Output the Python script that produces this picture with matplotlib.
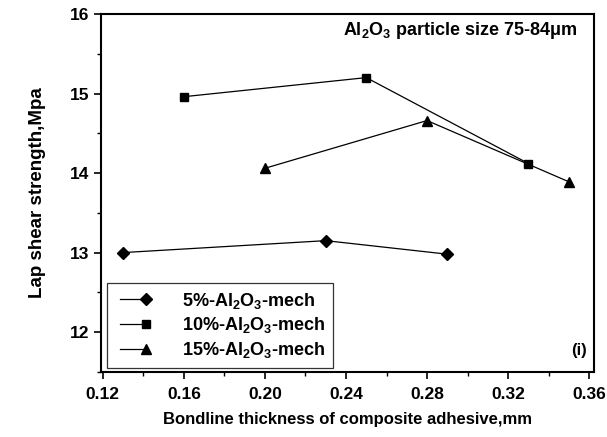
import matplotlib
matplotlib.use("Agg")
import matplotlib.pyplot as plt
from matplotlib.lines import Line2D
from matplotlib.legend_handler import HandlerLine2D
from matplotlib.ticker import MultipleLocator

plt.rcParams["font.family"] = "Liberation Sans"
plt.rcParams["font.weight"] = "bold"
plt.rcParams["mathtext.fontset"] = "custom"
plt.rcParams["mathtext.rm"] = "Liberation Sans:bold"
plt.rcParams["mathtext.bf"] = "Liberation Sans:bold"
plt.rcParams["mathtext.it"] = "Liberation Sans:bold"
plt.rcParams["mathtext.default"] = "bf"

# Data
x_5 = [0.13, 0.23, 0.29]
y_5 = [13.00, 13.15, 12.98]
x_10 = [0.16, 0.25, 0.33]
y_10 = [14.96, 15.20, 14.12]
x_15 = [0.20, 0.28, 0.35]
y_15 = [14.06, 14.66, 13.89]

labels = [
    r"5%-Al$_2$O$_3$-mech",
    r"10%-Al$_2$O$_3$-mech",
    r"15%-Al$_2$O$_3$-mech",
]


# legend entry with the marker only at the right end of the line
class EndMarker(HandlerLine2D):
    def create_artists(self, *args, **kwargs):
        arts = super().create_artists(*args, **kwargs)
        for a in arts:
            a.set_markevery([1])
        return arts


fig = plt.figure(figsize=(6.07, 4.37), dpi=100)
ax = fig.add_axes([0.166, 0.149, 0.813, 0.819])

l5, = ax.plot(x_5, y_5, color="k", lw=0.9, marker="D", ms=6.5)
l10, = ax.plot(x_10, y_10, color="k", lw=0.9, marker="s", ms=6)
l15, = ax.plot(x_15, y_15, color="k", lw=0.9, marker="^", ms=7)

ax.set_xlim(0.119, 0.3625)
ax.set_ylim(11.5, 16)
ax.xaxis.set_minor_locator(MultipleLocator(0.02))
ax.yaxis.set_major_locator(MultipleLocator(1))
ax.yaxis.set_minor_locator(MultipleLocator(0.5))
ax.set_xticks([0.12, 0.16, 0.20, 0.24, 0.28, 0.32, 0.36])
ax.set_xticklabels(["0.12", "0.16", "0.20", "0.24", "0.28", "0.32", "0.36"])
ax.tick_params(which="major", direction="out", length=5, width=1.2,
               labelsize=12.5)
ax.tick_params(axis="x", which="major", pad=6)
ax.tick_params(which="minor", direction="out", length=3, width=1.0)
for s in ax.spines.values():
    s.set_linewidth(1.5)

ax.set_xlabel("Bondline thickness of composite adhesive,mm", fontsize=12,
              fontweight="bold", labelpad=7)
ax.set_ylabel("Lap shear strength,Mpa", fontsize=13.5, fontweight="bold",
              labelpad=17)

ax.text(0.967, 0.983, r"Al$_2$O$_3$ particle size 75-84$\mu$m",
        transform=ax.transAxes, ha="right", va="top", fontsize=13,
        fontweight="bold")
ax.text(0.985, 0.06, "(i)", transform=ax.transAxes, ha="right", va="center",
        fontsize=12, fontweight="bold")

leg = ax.legend([l5, l10, l15], labels, loc="lower left", numpoints=2,
                fancybox=False, edgecolor="k", fontsize=13,
                handlelength=2.05, labelspacing=0.25,
                borderpad=0.45, handletextpad=1.65, borderaxespad=0,
                bbox_to_anchor=(0.012, 0.011),
                handler_map={Line2D: EndMarker(numpoints=2)})
leg.get_frame().set_linewidth(0.9)

fig.savefig("out.png", dpi=100)
